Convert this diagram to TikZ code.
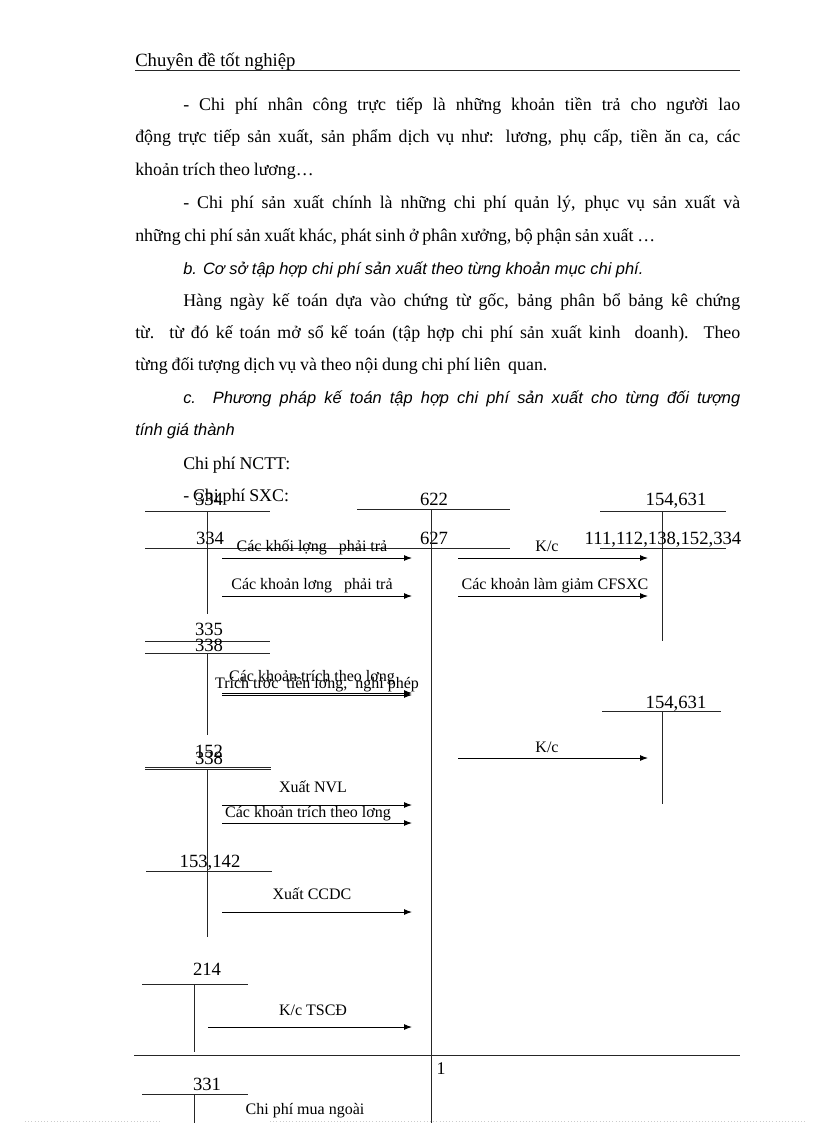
\documentclass[tikz,border=0pt]{standalone}
\usepackage{fontspec}
\setmainfont{Liberation Serif}
\newfontfamily\bodyfont{Liberation Serif}[WordSpace=0.85]
\newfontfamily\itfont{Liberation Sans}
\usetikzlibrary{arrows.meta}
\newlength\px
\setlength\px{0.75pt}
\begin{document}
\begin{tikzpicture}[x=0.75pt,y=-0.75pt,
txt/.style = {anchor=base west, inner sep=0pt, font=\bodyfont\fontsize{13.4}{15}\selectfont},
itx/.style = {anchor=base west, inner sep=0pt, font=\itfont\itshape\fontsize{12.3}{15}\selectfont},
acc/.style = {anchor=base, inner sep=0pt, font=\fontsize{14}{16}\selectfont},
lbl/.style = {anchor=base, inner sep=0pt, font=\fontsize{12}{14}\selectfont},
arr/.style = {line width=0.75pt, -{Latex[length=6pt,width=4.5pt]}},
tline/.style = {line width=0.75pt, black!85}]
\useasboundingbox[fill=white] (0,0) rectangle (816,1123);
% page text
\node[txt, font=\fontsize{14}{16}\selectfont] (hdr) at (135,67) {Chuyên đề tốt nghiệp};
\draw[tline] (135,71) -- (740,71);
\node[txt] (p1) at (183,111) {\makebox[557\px][s]{- Chi phí nhân công trực tiếp là những khoản tiền trả cho người lao}};
\node[txt] (p2) at (135,143) {\makebox[605\px][s]{động trực tiếp sản xuất, sản phẩm dịch vụ như: lương, phụ cấp, tiền ăn ca, các}};
\node[txt] (p3) at (135,176) {khoản trích theo lương…};
\node[txt] (p4) at (183,209) {\makebox[557\px][s]{- Chi phí sản xuất chính là những chi phí quản lý, phục vụ sản xuất và}};
\node[txt] (p5) at (135,242) {những chi phí sản xuất khác, phát sinh ở phân xưởng, bộ phận sản xuất …};
\node[itx] (p6) at (183,274) {b. Cơ sở tập hợp chi phí sản xuất theo từng khoản mục chi phí.};
\node[txt] (p7) at (183,306) {\makebox[557\px][s]{Hàng ngày kế toán dựa vào chứng từ gốc, bảng phân bổ bảng kê chứng}};
\node[txt] (p8) at (135,338) {\makebox[605\px][s]{từ. từ đó kế toán mở sổ kế toán (tập hợp chi phí sản xuất kinh \ doanh). Theo}};
\node[txt] (p9) at (135,370) {từng đối tượng dịch vụ và theo nội dung chi phí liên \ quan.};
\node[itx] (p10) at (183,403) {\makebox[557\px][s]{c. Phương pháp kế toán tập hợp chi phí sản xuất cho từng đối tượng}};
\node[itx] (p11) at (135,435) {tính giá thành};
\node[txt] (p12) at (183,469) {Chi phí NCTT:};
\node[txt] (p13) at (183,501) {- Chi phí SXC:};

% accounts, left column
\node[acc] (t334a) at (209,505) {334};
\draw[tline] (145,511) -- (270,511);
\draw[tline] (207,511) -- (207,614);
\node[acc] (t334b) at (210,544) {334};
\draw[tline] (145,548) -- (390,548);
\node[acc] (t335) at (209,635) {335};
\draw[tline] (145,641) -- (270,641);
\node[acc] (t338a) at (209,651) {338};
\draw[tline] (145,653) -- (270,653);
\draw[tline] (207,653) -- (207,735);
\node[acc] (t152) at (209,757) {152};
\node[acc] (t338b) at (209,764) {338};
\draw[tline] (145,767) -- (271,767);
\draw[tline] (145,769) -- (271,769);
\draw[tline] (207,769) -- (207,937);
\node[acc] (t153) at (210,867) {153,142};
\draw[tline] (146,871) -- (272,871);
\node[acc] (t214) at (207,975) {214};
\draw[tline] (142,984) -- (248,984);
\draw[tline] (194,984) -- (194,1052);
\node[acc] (t331) at (207,1090) {331};
\draw[tline] (142,1094) -- (248,1094);
\draw[tline] (194,1094) -- (194,1123);

% accounts 622 / 627
\node[acc] (t622) at (434,505) {622};
\draw[tline] (357,509) -- (510,509);
\node[acc] (t627) at (434,544) {627};
\draw[tline] (357,548) -- (510,548);
\draw[tline] (431,509) -- (431,1123);

% accounts, right column
\node[acc] (t154a) at (676,505) {154,631};
\draw[tline] (600,511) -- (726,511);
\draw[tline] (662,511) -- (662,641);
\node[acc] (t111) at (663,544) {111,112,138,152,334};
\draw[tline] (600,548) -- (726,548);
\node[acc] (t154b) at (676,708) {154,631};
\draw[tline] (602,711) -- (721,711);
\draw[tline] (662,711) -- (662,804);

% arrows
\foreach \xa/\xb/\y [count=\i] in {222/412/558, 222/412/596, 458/648/558, 458/648/596,
  222/412/693, 222/412/695, 458/648/758, 222/412/805, 222/412/823, 222/412/912, 208/412/1027}
{
  \coordinate (s\i) at (\xa,\y);
  \coordinate (e\i) at (\xb,\y);
  \draw[arr] (s\i) -- (e\i);
}

% arrow labels
\node[lbl] (l1) at (312,551) {Các khối lợng \ \ phải trả};
\node[lbl] (l2) at (312,589) {Các khoản lơng \ \ phải trả};
\node[lbl] (l3) at (547,551) {K/c};
\node[lbl] (l4) at (555,589) {Các khoản làm giảm CFSXC};
\node[lbl] (l5) at (312,681) {Các khoản trích theo lơng};
\node[lbl] (l6) at (317,688) {Trích trớc \ tiền lơng, \ nghỉ phép};
\node[lbl] (l7) at (547,752) {K/c};
\node[lbl] (l8) at (313,792) {Xuất NVL};
\node[lbl] (l9) at (308,817) {Các khoản trích theo lơng};
\node[lbl] (l10) at (312,899) {Xuất CCDC};
\node[lbl] (l11) at (313,1015) {K/c TSCĐ};
\node[lbl] (l12) at (305,1114) {Chi phí mua ngoài};

% page foot
\draw[tline] (134,1055) -- (740,1055);
\node[txt, anchor=base] (pg) at (441,1074) {1};
\draw[gray!40, dotted] (25,1121) -- (160,1121);
\draw[gray!40, dotted] (270,1121) -- (805,1121);
\end{tikzpicture}
\end{document}
